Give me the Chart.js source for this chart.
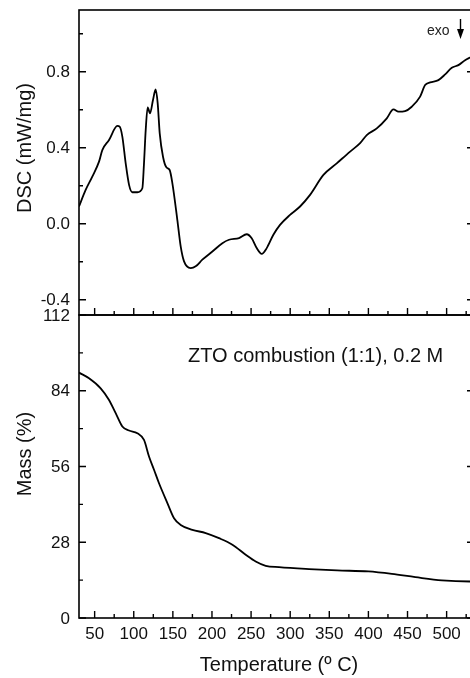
<!DOCTYPE html>
<html>
<head>
<meta charset="utf-8">
<script src="https://cdn.jsdelivr.net/npm/chart.js@4.4.1/dist/chart.umd.min.js"></script>
<style>
    html, body { margin: 0; padding: 0; background: #fff; overflow: hidden; width: 470px; height: 678px; }
    canvas { position: absolute; left: 0; }
    #dscCanvas { top: 0; }
    #massCanvas { top: 300px; }
</style>
</head>
<body>
<canvas id="dscCanvas" width="476" height="320"></canvas>
<canvas id="massCanvas" width="476" height="378"></canvas>
<script>
// DSC curve (top panel)
const dscTemp = [30, 38.5, 47, 55.6, 59.8, 68.4, 79, 82, 85.4, 89.7, 94, 98.2, 104.6, 111, 113.1, 115.3, 117.8, 120.8, 124.6, 128,
    130.6, 133.2, 137.4, 141.7, 145.9, 149.4, 155.7, 160, 164.3, 172.8, 179.2, 187.7, 200.5, 213.3, 221.8, 234.6,
    244.4, 250.8, 257.2, 263.6, 270, 278.5, 287, 299.8, 312.6, 325.4, 342.5, 359.5, 376.6, 389.4, 397.9, 410.7,
    423.5, 432, 438.4, 446.9, 455.4, 466.1, 472.5, 478.9, 489.5, 498.1, 506.6, 515.1, 523.6, 530, 535];
const dscValue = [0.091, 0.178, 0.248, 0.327, 0.388, 0.441, 0.515, 0.511, 0.459, 0.318, 0.205, 0.166, 0.166, 0.187, 0.318, 0.494, 0.613, 0.581, 0.651, 0.707,
    0.634, 0.476, 0.353, 0.297, 0.283, 0.213, 0.021, -0.119, -0.198, -0.233, -0.224, -0.189, -0.146, -0.102, -0.084, -0.075,
    -0.055, -0.076, -0.128, -0.158, -0.128, -0.058, -0.006, 0.047, 0.091, 0.152, 0.257, 0.318, 0.38, 0.424, 0.467, 0.502,
    0.555, 0.602, 0.59, 0.593, 0.616, 0.669, 0.73, 0.744, 0.756, 0.786, 0.821, 0.835, 0.861, 0.875, 0.885];

// Mass loss curve (bottom panel)
const massTemp = [30, 42.8, 57.7, 68.4, 76.9, 85.4, 93.9, 104.6, 113.1, 119.5, 125.9, 132.3, 143, 151.5, 160, 174.9, 192, 209,
    226.1, 243.1, 255.9, 268.7, 285.8, 324.1, 360, 400, 430, 460, 494, 530, 535];
const massValue = [90.7, 88.6, 84.9, 80.6, 75.7, 70.8, 69.3, 68.3, 65.8, 59.7, 54.8, 49.8, 42.5, 36.9, 34.4, 32.6, 31.4, 29.5,
    27.1, 23.4, 20.9, 19.3, 18.8, 18.1, 17.6, 17.2, 16.3, 15.1, 13.9, 13.5, 13.5];

// Axis ticks
const tempTicks = [50, 100, 150, 200, 250, 300, 350, 400, 450, 500];
const tempMinorTicks = [75, 125, 175, 225, 275, 325, 375, 425, 475, 525];
const dscTicks = [-0.4, 0.0, 0.4, 0.8];
const dscMinorTicks = [-0.2, 0.2, 0.6, 1.0];
const massTicks = [0, 28, 56, 84, 112];
const massMinorTicks = [14, 42, 70, 98];

const FONT = "'Liberation Sans', Arial, sans-serif";
const INK = '#111';

// Frame, inward ticks and labels drawn on top of each panel
const framePlugin = {
    id: 'frame',
    afterDraw(chart, args, opts) {
        const { ctx, chartArea: a } = chart;
        const xs = chart.scales.x, ys = chart.scales.y;
        ctx.save();
        ctx.strokeStyle = '#000';
        ctx.lineWidth = 1.6;
        ctx.strokeRect(a.left, a.top, a.right - a.left, a.bottom - a.top);

        ctx.lineWidth = 1.4;
        ctx.beginPath();
        const xt = (v, len) => {
            const px = xs.getPixelForValue(v);
            ctx.moveTo(px, a.bottom);
            ctx.lineTo(px, a.bottom - len);
        };
        opts.xMajor.forEach(v => xt(v, 7));
        opts.xMinor.forEach(v => xt(v, 4));
        const yt = (v, len) => {
            const py = ys.getPixelForValue(v);
            ctx.moveTo(a.left, py);
            ctx.lineTo(a.left + len, py);
            ctx.moveTo(a.right, py);
            ctx.lineTo(a.right - len, py);
        };
        opts.yMajor.forEach(v => yt(v, 7));
        opts.yMinor.forEach(v => yt(v, 4));
        ctx.stroke();

        ctx.fillStyle = INK;
        ctx.font = '17px ' + FONT;
        ctx.textAlign = 'right';
        ctx.textBaseline = 'middle';
        opts.yMajor.forEach(v => {
            ctx.fillText(opts.yFormat(v), 70, ys.getPixelForValue(v) + 1);
        });

        if (opts.xLabels) {
            ctx.textAlign = 'center';
            opts.xMajor.forEach(v => {
                ctx.fillText(String(v), xs.getPixelForValue(v), a.bottom + 16);
            });
            ctx.font = '20px ' + FONT;
            ctx.textBaseline = 'alphabetic';
            ctx.fillText(opts.xTitle, 279, a.bottom + 53);
        }

        ctx.save();
        ctx.font = '20px ' + FONT;
        ctx.textAlign = 'center';
        ctx.textBaseline = 'middle';
        ctx.translate(25, opts.yTitleY);
        ctx.rotate(-Math.PI / 2);
        ctx.fillText(opts.yTitle, 0, 0);
        ctx.restore();

        if (opts.extra) opts.extra(ctx);
        ctx.restore();
    }
};

function lineChart(canvasId, temps, values, yMin, yMax, padding, frame) {
    return new Chart(document.getElementById(canvasId), {
        type: 'line',
        data: {
            datasets: [{
                data: temps.map((t, i) => ({ x: t, y: values[i] })),
                borderColor: '#000',
                borderWidth: 1.8,
                pointRadius: 0,
                fill: false,
                cubicInterpolationMode: 'monotone'
            }]
        },
        options: {
            responsive: false,
            animation: false,
            devicePixelRatio: 1,
            layout: { padding },
            plugins: { legend: { display: false }, tooltip: { enabled: false }, frame },
            scales: {
                x: { type: 'linear', display: false, min: 30, max: 535 },
                y: { type: 'linear', display: false, min: yMin, max: yMax }
            }
        },
        plugins: [framePlugin]
    });
}

lineChart('dscCanvas', dscTemp, dscValue, -0.48, 1.125,
    { left: 79, right: 2, top: 10, bottom: 5 },
    {
        xMajor: tempTicks, xMinor: tempMinorTicks,
        yMajor: dscTicks, yMinor: dscMinorTicks,
        yFormat: v => v.toFixed(1),
        yTitle: 'DSC (mW/mg)', yTitleY: 148,
        xLabels: false,
        extra(ctx) {
            ctx.font = '14px ' + FONT;
            ctx.textAlign = 'left';
            ctx.textBaseline = 'alphabetic';
            ctx.fillStyle = '#222';
            ctx.fillText('exo', 427, 35);
            ctx.lineWidth = 1.4;
            ctx.beginPath();
            ctx.moveTo(460.5, 19);
            ctx.lineTo(460.5, 32);
            ctx.stroke();
            ctx.beginPath();
            ctx.moveTo(457, 29);
            ctx.lineTo(464, 29);
            ctx.lineTo(460.5, 39);
            ctx.closePath();
            ctx.fillStyle = '#000';
            ctx.fill();
        }
    });

lineChart('massCanvas', massTemp, massValue, 0, 112,
    { left: 79, right: 2, top: 15, bottom: 60 },
    {
        xMajor: tempTicks, xMinor: tempMinorTicks,
        yMajor: massTicks, yMinor: massMinorTicks,
        yFormat: v => String(v),
        yTitle: 'Mass (%)', yTitleY: 154,
        xLabels: true, xTitle: 'Temperature (\u00ba C)',
        extra(ctx) {
            ctx.font = '20px ' + FONT;
            ctx.textAlign = 'left';
            ctx.textBaseline = 'alphabetic';
            ctx.fillStyle = INK;
            ctx.fillText('ZTO combustion (1:1), 0.2 M', 188, 62);
        }
    });
</script>
</body>
</html>
